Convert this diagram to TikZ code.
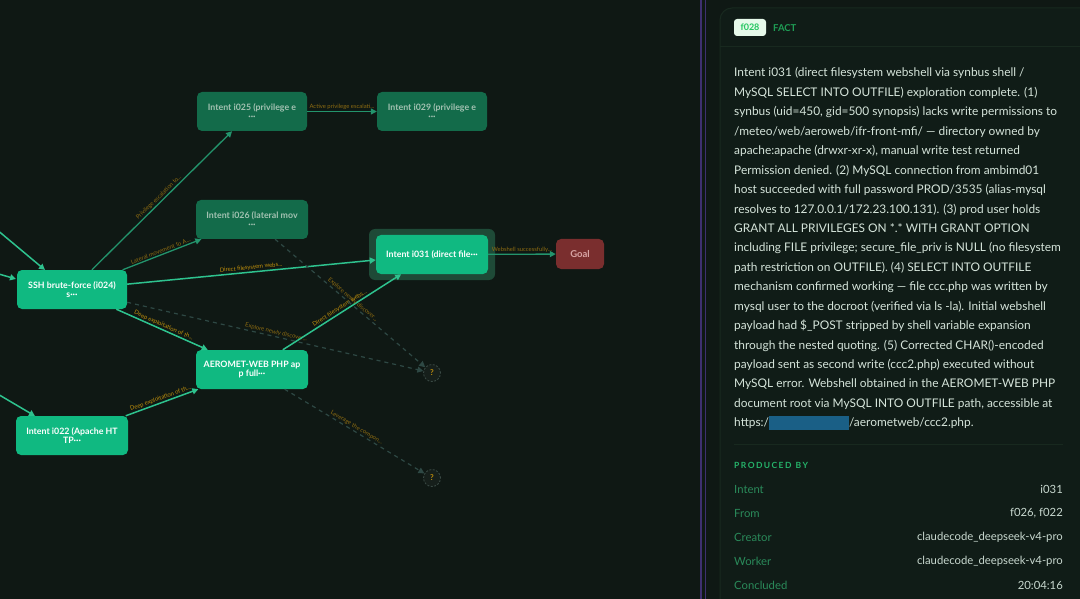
\documentclass[tikz,border=0pt]{standalone}
\usepackage{fontspec}
\setmainfont{Lato}
\newfontfamily\panelfont{Lato}
\usetikzlibrary{arrows.meta}
\definecolor{bg}{HTML}{0F1814}
\definecolor{cardbg}{HTML}{101C17}
\definecolor{cardline}{HTML}{18291F}
\definecolor{bright}{HTML}{10B981}
\definecolor{dimnode}{HTML}{136B4A}
\definecolor{dimtext}{HTML}{A3C2B2}
\definecolor{halo}{HTML}{1E4A37}
\definecolor{goalc}{HTML}{7A2E2E}
\definecolor{goaltext}{HTML}{D9A5A5}
\definecolor{edgeb}{HTML}{2EC28E}
\definecolor{edged}{HTML}{23946C}
\definecolor{dashc}{HTML}{2E4844}
\definecolor{amber}{HTML}{C0900C}
\definecolor{amberd}{HTML}{8E6C12}
\definecolor{qfill}{HTML}{161F1B}
\definecolor{qline}{HTML}{3A4A45}
\definecolor{divider}{HTML}{3E3070}
\definecolor{bodytext}{HTML}{D5E4DA}
\definecolor{badgebg}{HTML}{E6F9EA}
\definecolor{badgetext}{HTML}{22C55E}
\definecolor{factc}{HTML}{1F9D55}
\definecolor{headc}{HTML}{25B36A}
\definecolor{rowlabc}{HTML}{2A8A5A}
\definecolor{rowvalc}{HTML}{C8D8CF}
\definecolor{redact}{HTML}{1A5F86}
\begin{document}
\begin{tikzpicture}[x=1pt,y=-1pt,
  gnode/.style={rounded corners=5pt, minimum height=39pt, align=center, inner sep=2pt,
    font=\bfseries\fontsize{8.8}{9.5}\selectfont},
  brightnode/.style={gnode, fill=bright, text=white},
  dimbox/.style={gnode, fill=dimnode, text=dimtext},
  edge/.style={draw=edgeb, line width=1.5pt, -{Triangle[length=6pt,width=6pt]}},
  edgedim/.style={draw=edged, line width=1.3pt, -{Triangle[length=6pt,width=6pt]}},
  dashedge/.style={draw=dashc, line width=1.2pt, dash pattern=on 4pt off 4pt, -{Triangle[length=6pt,width=6pt]}},
  elab/.style={sloped, above, inner sep=1pt, text=amber, font=\fontsize{5.9}{6.5}\selectfont},
  elabd/.style={elab, text=amberd},
  qnode/.style={circle, minimum size=17pt, inner sep=0pt, fill=qfill, draw=qline, line width=0.8pt,
    dash pattern=on 2pt off 1.5pt, text=amber, font=\bfseries\fontsize{8}{9}\selectfont},
  rowlab/.style={anchor=west, inner sep=0pt, text=rowlabc, font=\panelfont\fontsize{11.3}{13}\selectfont},
  rowval/.style={anchor=east, inner sep=0pt, text=rowvalc, font=\panelfont\fontsize{11.3}{13}\selectfont}
]
\useasboundingbox (0,0) rectangle (1080,599);
\fill[bg] (0,0) rectangle (1080,599);

% ---------- graph ----------
\node[dimbox, minimum width=110pt] (i025) at (252,111.5) {Intent i025 (privilege e\\···};
\node[dimbox, minimum width=110pt] (i029) at (432,111.5) {Intent i029 (privilege e\\···};
\node[dimbox, minimum width=112pt] (i026) at (252,219.5) {Intent i026 (lateral mov\\···};
\node[brightnode, minimum width=110pt] (ssh) at (72,289.5) {SSH brute-force (i024)\\s···};
\node[rounded corners=6pt, fill=halo, minimum width=126pt, minimum height=51pt] (i031h) at (432,254.5) {};
\node[brightnode, minimum width=112pt] (i031) at (432,254.5) {Intent i031 (direct file···};
\node[gnode, fill=goalc, text=goaltext, minimum width=48pt, minimum height=30pt, font=\bfseries\fontsize{9.5}{10}\selectfont] (goal) at (580,254) {Goal};
\node[brightnode, minimum width=112pt] (aero) at (252,369.5) {AEROMET-WEB PHP ap\\p full···};
\node[brightnode, minimum width=112pt] (i022) at (72,435.5) {Intent i022 (Apache HT\\TP···};
\node[qnode] (q1) at (432,373) {?};
\node[qnode] (q2) at (432,478) {?};

\coordinate (la) at (-20,215.6);
\coordinate (lb) at (-20,268.5);
\coordinate (lc) at (-20,383.6);
\coordinate (ea) at (45,270);
\coordinate (eb) at (16,279);
\coordinate (ec) at (35,416);

\draw[edge] (la) -- (ea);
\draw[edge] (lb) -- (eb);
\draw[edge] (lc) -- (ec);

\draw[edgedim] (ssh) -- node[elabd]{Privilege escalation to...} (i025);
\draw[edgedim] (ssh) -- node[elabd]{Lateral movement to A...} (i026);
\draw[edge] (ssh) -- node[elab]{Direct filesystem webs...} (i031);
\draw[edge] (ssh) -- node[elab]{Deep exploitation of th...} (aero);
\draw[dashedge] (ssh) -- node[elabd]{Explore newly discover...} (q1);
\draw[edge] (i022) -- node[elab]{Deep exploitation of th...} (aero);
\draw[edge] (aero) -- node[elab]{Direct filesystem webs...} (i031);
\draw[dashedge] (i026) -- node[elabd]{Explore newly discover...} (q1);
\draw[dashedge] (aero) -- node[elabd]{Leverage the compon...} (q2);
\draw[edgedim] (i025) -- node[elabd]{Active privilege escalati...} (i029);
\draw[edgedim] (i031) -- node[elabd]{Webshell successfully...} (goal);

% ---------- divider ----------
\draw[divider, line width=1.5pt] (701,0) -- (701,599);
\draw[divider, line width=1.5pt] (705.5,0) -- (705.5,599);

% ---------- panel ----------
\draw[fill=cardbg, draw=cardline, line width=1pt, rounded corners=12pt] (720,8) rectangle (1110,640);
\draw[cardline, line width=1pt] (720,47) -- (1080,47);
\node[fill=badgebg, rounded corners=3pt, minimum width=32pt, minimum height=17pt, inner sep=0pt,
  text=badgetext, font=\panelfont\bfseries\fontsize{9}{10}\selectfont] (badge) at (750,27.5) {f028};
\node[anchor=west, inner sep=0pt, text=factc, font=\panelfont\bfseries\fontsize{9.5}{10}\selectfont] (fact) at (773,28) {FACT};

\node[anchor=north west, align=left, inner sep=0pt, text=bodytext,
  font=\panelfont\fontsize{11.9}{19.44}\selectfont] (body) at (734,67.5) {%
Intent i031 (direct filesystem webshell via synbus shell /\\
MySQL SELECT INTO OUTFILE) exploration complete. (1)\\
synbus (uid=450, gid=500 synopsis) lacks write permissions to\\
/meteo/web/aeroweb/ifr-front-mfi/ — directory owned by\\
apache:apache (drwxr-xr-x), manual write test returned\\
Permission denied. (2) MySQL connection from ambimd01\\
host succeeded with full password PROD/3535 (alias-mysql\\
resolves to 127.0.0.1/172.23.100.131). (3) prod user holds\\
GRANT ALL PRIVILEGES ON *.* WITH GRANT OPTION\\
including FILE privilege; secure\_file\_priv is NULL (no filesystem\\
path restriction on OUTFILE). (4) SELECT INTO OUTFILE\\
mechanism confirmed working — file ccc.php was written by\\
mysql user to the docroot (verified via ls -la). Initial webshell\\
payload had \$\_POST stripped by shell variable expansion\\
through the nested quoting. (5) Corrected CHAR()-encoded\\
payload sent as second write (ccc2.php) executed without\\
MySQL error. Webshell obtained in the AEROMET-WEB PHP\\
document root via MySQL INTO OUTFILE path, accessible at\\
https:/\textcolor{redact}{\rule[-3pt]{80pt}{14pt}}/aerometweb/ccc2.php.};

\draw[cardline, line width=1pt] (734,444) -- (1063,444);
\node[anchor=west, inner sep=0pt, text=headc, font=\panelfont\bfseries\fontsize{8.5}{10}\selectfont] (prod) at (734,465) {P\,R\,O\,D\,U\,C\,E\,D\ \ B\,Y};

\node[rowlab] (l1) at (734,489) {Intent};
\node[rowval] (v1) at (1063,489) {i031};
\node[rowlab] (l2) at (734,513) {From};
\node[rowval] (v2) at (1063,513) {f026, f022};
\node[rowlab] (l3) at (734,537) {Creator};
\node[rowval] (v3) at (1063,537) {claudecode\_deepseek-v4-pro};
\node[rowlab] (l4) at (734,561) {Worker};
\node[rowval] (v4) at (1063,561) {claudecode\_deepseek-v4-pro};
\node[rowlab] (l5) at (734,585) {Concluded};
\node[rowval] (v5) at (1063,585) {20:04:16};
\end{tikzpicture}
\end{document}
